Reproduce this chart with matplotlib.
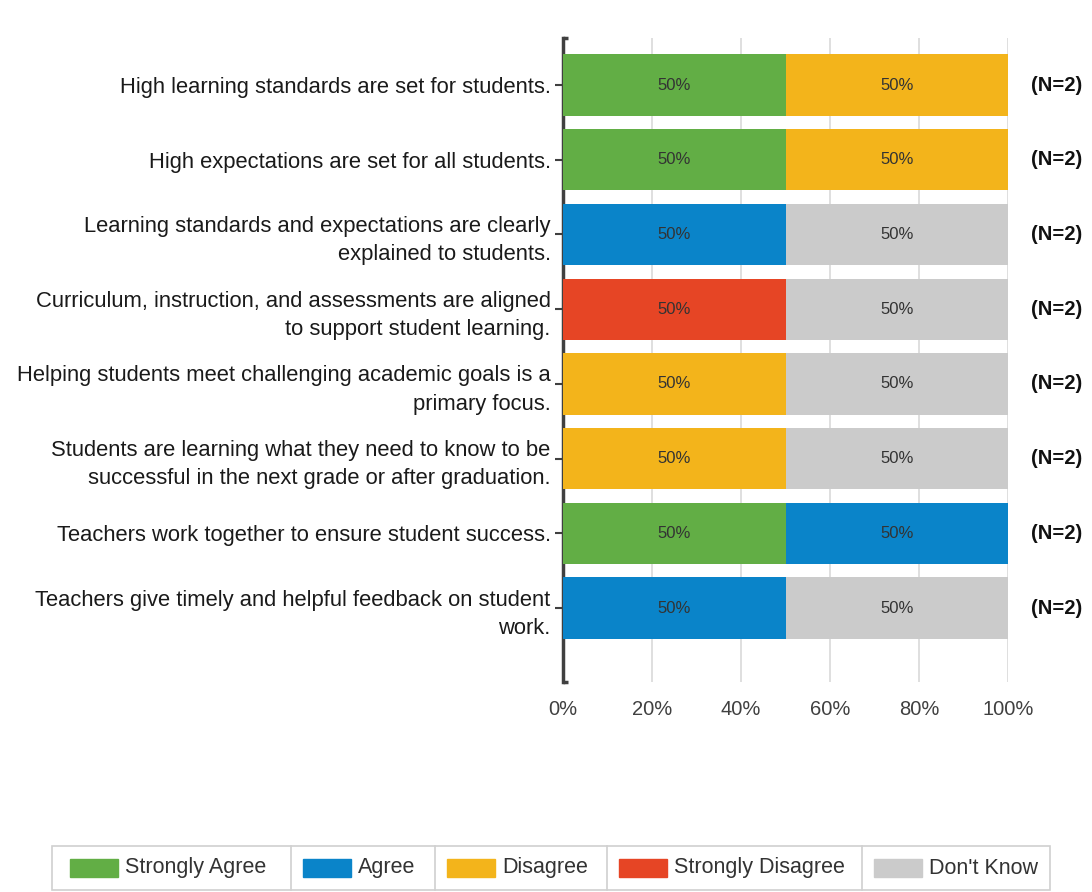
import matplotlib
matplotlib.use("Agg")
import matplotlib.pyplot as plt
from matplotlib.patches import Rectangle
from matplotlib.lines import Line2D

plt.rcParams["font.family"] = ["Liberation Sans", "DejaVu Sans"]

statements = [
    "High learning standards are set for students.",
    "High expectations are set for all students.",
    "Learning standards and expectations are clearly\nexplained to students.",
    "Curriculum, instruction, and assessments are aligned\nto support student learning.",
    "Helping students meet challenging academic goals is a\nprimary focus.",
    "Students are learning what they need to know to be\nsuccessful in the next grade or after graduation.",
    "Teachers work together to ensure student success.",
    "Teachers give timely and helpful feedback on student\nwork.",
]
responses = ["Strongly Agree", "Agree", "Disagree", "Strongly Disagree", "Don't Know"]
strongly_agree = [50, 50, 0, 0, 0, 0, 50, 0]
agree = [0, 0, 50, 0, 0, 0, 50, 50]
disagree = [50, 50, 0, 0, 50, 50, 0, 0]
strongly_disagree = [0, 0, 0, 50, 0, 0, 0, 0]
dont_know = [0, 0, 50, 50, 50, 50, 0, 50]
n_counts = [2, 2, 2, 2, 2, 2, 2, 2]
x_ticks = [0, 20, 40, 60, 80, 100]

series = [strongly_agree, agree, disagree, strongly_disagree, dont_know]
colors = ["#62AE45", "#0A84C9", "#F3B41B", "#E64525", "#CBCBCB"]

fig = plt.figure(figsize=(10.92, 8.92), dpi=100)
fig.patch.set_facecolor("white")
ax = fig.add_axes([0.5156, 0.2354, 0.4075, 0.722])

ypos = list(range(len(statements)))
left = [0] * len(statements)
for vals, col in zip(series, colors):
    ax.barh(ypos, vals, left=left, height=0.82, color=col, zorder=3)
    for i, v in enumerate(vals):
        if v > 0:
            ax.text(left[i] + v / 2, i, f"{v}%", ha="center", va="center",
                    fontsize=12, color="#333333", zorder=4)
    left = [l + v for l, v in zip(left, vals)]

for i, n in enumerate(n_counts):
    ax.text(1.11, i, f"(N={n})", transform=ax.get_yaxis_transform(),
            ha="center", va="center", fontsize=14.5, fontweight="bold", color="#111111")

ax.set_xlim(0, 100)
ax.set_ylim(7.99, -0.63)
ax.set_xticks(x_ticks)
ax.set_xticklabels([f"{t}%" for t in x_ticks], fontsize=14.5, color="#404040")
ax.set_yticks(ypos)
ax.set_yticklabels(statements, fontsize=15.8, color="#1a1a1a", linespacing=1.45)
ax.tick_params(axis="x", length=0, pad=13)
ax.tick_params(axis="y", length=6, width=1.5, color="#404040", pad=3)
ax.grid(axis="x", color="#D9D9D9", lw=1.2, zorder=0)
for s in ["top", "right", "bottom"]:
    ax.spines[s].set_visible(False)
ax.spines["left"].set_color("#404040")
ax.spines["left"].set_linewidth(2.5)
# bracket ends on the axis line
for yy in [0, 1]:
    ax.plot([0, 0.012], [yy, yy], transform=ax.transAxes, color="#404040",
            lw=2.5, clip_on=False, solid_capstyle="butt")

# legend box with separators
fw, fh = 1092, 892
def fx(px):
    return px / fw
def fy(py):
    return 1 - py / fh

fig.add_artist(Rectangle((fx(52), fy(890)), fx(1050) - fx(52), fy(846) - fy(890),
                         transform=fig.transFigure, fill=False, ec="#D0D0D0", lw=1.2))
for sx in [291, 435, 607, 862]:
    fig.add_artist(Line2D([fx(sx), fx(sx)], [fy(890), fy(846)],
                          transform=fig.transFigure, color="#D0D0D0", lw=1.2))
patch_x = [70, 303, 447, 619, 874]
for px, lab, col in zip(patch_x, responses, colors):
    fig.add_artist(Rectangle((fx(px), fy(877)), fx(48), fy(859) - fy(877),
                             transform=fig.transFigure, color=col))
    fig.text(fx(px + 55), fy(868), lab, ha="left", va="center",
             fontsize=15.5, color="#333333")

fig.savefig("out.png", dpi=100, facecolor="white")
